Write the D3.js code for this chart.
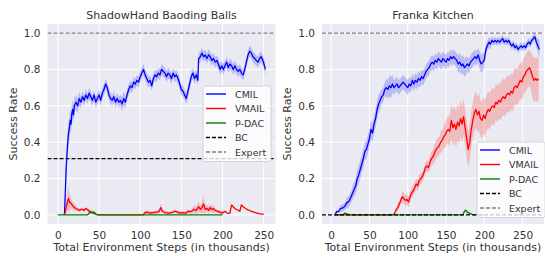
<!DOCTYPE html>
<html>
<head>
<meta charset="utf-8">
<script src="https://cdn.jsdelivr.net/npm/d3@7"></script>
<style>
  body { margin: 0; background: #fff; }
  text { font-family: "DejaVu Sans", sans-serif; fill: #333; }
</style>
</head>
<body>
<svg id="chart" width="545" height="256"></svg>
<script>
// ---- datos (x en miles de pasos) ----
// Panel izquierdo: ShadowHand Baoding Balls
const cmilL_x = [8,9,10,11,12,13,14,15,16,17,18,19,20,22,24,26,28,30,32,34,36,38,40,42,44,46,48,50,52,54,56,58,60,62,64,66,68,70,72,74,76,78,80,82,84,86,88,90,92,94,96,98,100,102,104,106,108,110,112,114,116,118,120,122,124,126,128,130,132,134,136,138,140,142,144,146,148,150,152,154,156,158,160,162,164,166,168,170,171,173,175,177,179,181,183,185,187,189,191,193,195,197,199,201,203,205,207,209,211,213,215,217,219,221,223,225,227,229,231,233,235,237,239,241,243,245,247,249,251,252];
const cmilL_y = [0,0.12,0.25,0.33,0.40,0.45,0.48,0.52,0.50,0.56,0.58,0.55,0.60,0.62,0.60,0.64,0.62,0.65,0.63,0.66,0.64,0.67,0.65,0.63,0.66,0.62,0.64,0.66,0.63,0.67,0.69,0.72,0.70,0.66,0.64,0.63,0.65,0.62,0.64,0.62,0.63,0.61,0.64,0.62,0.66,0.69,0.71,0.70,0.73,0.72,0.74,0.73,0.76,0.78,0.80,0.77,0.75,0.73,0.74,0.71,0.75,0.77,0.76,0.78,0.77,0.80,0.79,0.78,0.76,0.78,0.77,0.75,0.78,0.76,0.77,0.75,0.72,0.69,0.68,0.66,0.64,0.68,0.72,0.76,0.78,0.75,0.77,0.74,0.86,0.87,0.89,0.87,0.88,0.86,0.88,0.87,0.85,0.86,0.84,0.85,0.83,0.80,0.82,0.80,0.82,0.84,0.81,0.83,0.82,0.80,0.82,0.80,0.79,0.80,0.78,0.77,0.80,0.84,0.88,0.90,0.89,0.87,0.86,0.85,0.84,0.86,0.87,0.85,0.82,0.80];
const cmilL_sd = [0,0.06,0.07,0.07,0.07,0.06,0.06,0.06,0.05,0.05,0.05,0.05,0.04,0.04,0.04,0.04,0.03,0.03,0.03,0.03,0.03,0.03,0.03,0.03,0.03,0.03,0.03,0.03,0.03,0.03,0.03,0.03,0.03,0.03,0.03,0.03,0.03,0.03,0.03,0.03,0.03,0.04,0.04,0.03,0.03,0.03,0.03,0.03,0.03,0.03,0.03,0.03,0.03,0.03,0.03,0.03,0.03,0.03,0.03,0.03,0.03,0.03,0.03,0.03,0.03,0.03,0.03,0.03,0.03,0.03,0.03,0.03,0.03,0.03,0.03,0.03,0.03,0.03,0.03,0.03,0.03,0.03,0.03,0.03,0.03,0.03,0.03,0.03,0.03,0.03,0.03,0.03,0.03,0.03,0.03,0.03,0.03,0.03,0.03,0.03,0.03,0.03,0.03,0.03,0.03,0.03,0.03,0.03,0.03,0.03,0.03,0.03,0.03,0.03,0.03,0.03,0.03,0.03,0.03,0.03,0.03,0.03,0.03,0.03,0.03,0.03,0.03,0.03,0.03,0.04];

const vmailL_x = [8,10,12,13,14,16,18,20,22,24,26,28,30,32,34,36,38,40,42,44,46,48,50,104,105,108,112,116,120,123,125,127,130,134,138,142,144,148,152,156,158,162,165,168,171,173,175,177,179,181,183,185,187,189,191,194,197,200,203,205,207,209,211,213,215,217,219,221,223,225,228,231,234,237,240,243,246,250];
const vmailL_y = [0,0.04,0.08,0.09,0.07,0.065,0.05,0.04,0.035,0.03,0.025,0.03,0.03,0.025,0.035,0.03,0.02,0.018,0.012,0.008,0.004,0.001,0,0,0.01,0.015,0.01,0.012,0.015,0.02,0.04,0.02,0.013,0.01,0.012,0.02,0.018,0.01,0.012,0.01,0.02,0.018,0.03,0.025,0.045,0.03,0.04,0.06,0.03,0.035,0.025,0.04,0.03,0.035,0.025,0.02,0.015,0.01,0.02,0.012,0.008,0.01,0.055,0.045,0.035,0.03,0.025,0.02,0.055,0.045,0.035,0.028,0.022,0.017,0.013,0.009,0.006,0.003];
const vmailL_sd = [0,0.03,0.06,0.07,0.05,0.03,0.02,0.02,0.015,0.01,0.01,0.01,0.01,0.01,0.01,0.01,0.01,0.01,0.005,0.005,0.003,0,0,0,0.01,0.01,0.01,0.01,0.01,0.01,0.025,0.01,0.01,0.01,0.01,0.01,0.01,0.01,0.01,0.01,0.01,0.01,0.02,0.02,0.03,0.02,0.03,0.05,0.02,0.02,0.02,0.02,0.02,0.02,0.01,0.01,0.01,0.01,0,0,0,0,0,0,0,0,0,0,0,0,0,0,0,0,0,0,0,0];

const pdacL_x = [0,36,38,40,42,44,46,48,200];
const pdacL_y = [0,0,0.01,0.015,0.012,0.015,0.005,0,0];
const pdacL_sd = [0,0,0.008,0.01,0.01,0.01,0.005,0,0];

// Panel derecho: Franka Kitchen
const cmilR_x = [5,7,10,12,14,16,18,20,22,24,26,28,30,32,34,36,38,40,42,44,46,48,50,52,54,56,58,60,62,64,66,68,70,72,74,76,78,80,82,84,86,88,90,92,94,96,98,100,102,104,106,108,110,112,114,116,118,120,122,124,126,128,130,132,134,136,138,140,142,144,146,148,150,152,154,156,158,160,162,164,166,168,170,172,174,176,178,180,182,184,186,188,190,192,194,196,198,200,202,204,206,208,210,212,214,216,218,220,222,224,226,228,230,232,234,236,238,240,242,244,246,248,250,252,254,256,258,260,262,264,266,268,270,272];
const cmilR_y = [0,0.018,0.02,0.035,0.037,0.04,0.05,0.065,0.07,0.08,0.1,0.12,0.14,0.16,0.2,0.22,0.25,0.28,0.31,0.35,0.36,0.39,0.42,0.47,0.45,0.5,0.53,0.58,0.61,0.63,0.65,0.66,0.69,0.70,0.69,0.71,0.70,0.72,0.70,0.71,0.72,0.70,0.71,0.72,0.73,0.72,0.71,0.70,0.72,0.71,0.74,0.72,0.74,0.73,0.75,0.74,0.76,0.75,0.77,0.79,0.80,0.81,0.83,0.84,0.83,0.85,0.84,0.86,0.85,0.84,0.86,0.85,0.84,0.86,0.85,0.87,0.86,0.87,0.86,0.85,0.83,0.84,0.82,0.83,0.81,0.82,0.83,0.82,0.84,0.85,0.86,0.87,0.86,0.88,0.85,0.83,0.84,0.85,0.91,0.93,0.95,0.94,0.96,0.95,0.96,0.95,0.96,0.95,0.96,0.97,0.95,0.96,0.95,0.96,0.94,0.93,0.94,0.92,0.93,0.91,0.92,0.93,0.92,0.93,0.92,0.94,0.95,0.94,0.96,0.97,0.98,0.95,0.93,0.91];
const cmilR_sd = [0,0.01,0.01,0.02,0.02,0.02,0.02,0.03,0.03,0.03,0.03,0.04,0.04,0.04,0.05,0.05,0.05,0.05,0.05,0.05,0.05,0.05,0.05,0.05,0.05,0.05,0.05,0.05,0.05,0.05,0.04,0.04,0.04,0.05,0.05,0.06,0.06,0.05,0.04,0.04,0.04,0.04,0.04,0.04,0.04,0.04,0.04,0.04,0.04,0.04,0.04,0.04,0.04,0.04,0.04,0.04,0.04,0.04,0.04,0.04,0.04,0.04,0.04,0.04,0.04,0.04,0.04,0.04,0.04,0.04,0.04,0.04,0.04,0.04,0.04,0.04,0.04,0.04,0.04,0.04,0.05,0.05,0.05,0.05,0.05,0.05,0.04,0.04,0.04,0.04,0.04,0.04,0.04,0.04,0.05,0.05,0.05,0.04,0.03,0.03,0.03,0.03,0.02,0.02,0.02,0.02,0.02,0.02,0.02,0.02,0.02,0.02,0.02,0.02,0.02,0.02,0.02,0.02,0.02,0.02,0.02,0.02,0.02,0.02,0.02,0.02,0.02,0.02,0.02,0.02,0.02,0.03,0.04,0.05];

const vmailR_x = [5,81,83,85,87,89,91,93,95,97,99,101,103,105,107,109,111,113,115,117,119,121,123,125,127,129,131,133,135,137,139,141,143,145,147,149,151,153,155,157,159,161,163,165,167,169,171,173,175,177,179,181,183,185,187,189,191,193,195,197,199,201,203,205,207,209,211,213,215,217,219,221,223,225,227,229,231,233,235,237,239,241,243,245,247,249,251,253,255,257,259,261,263,265,267,269,271];
const vmailR_y = [0,0,0.01,0.03,0.04,0.06,0.08,0.1,0.09,0.08,0.085,0.07,0.1,0.12,0.13,0.15,0.17,0.16,0.19,0.2,0.21,0.23,0.26,0.27,0.26,0.29,0.31,0.32,0.34,0.36,0.37,0.38,0.40,0.41,0.43,0.44,0.46,0.47,0.46,0.52,0.48,0.50,0.47,0.51,0.49,0.53,0.50,0.54,0.48,0.42,0.36,0.40,0.47,0.52,0.56,0.58,0.55,0.57,0.53,0.52,0.55,0.53,0.56,0.58,0.57,0.59,0.60,0.59,0.62,0.61,0.63,0.62,0.64,0.65,0.64,0.66,0.67,0.66,0.68,0.67,0.70,0.71,0.70,0.72,0.74,0.73,0.76,0.77,0.79,0.80,0.81,0.79,0.76,0.74,0.75,0.74,0.75];
const vmailR_sd = [0,0,0.01,0.01,0.02,0.02,0.02,0.03,0.03,0.03,0.03,0.03,0.03,0.03,0.03,0.03,0.03,0.03,0.03,0.03,0.03,0.03,0.03,0.03,0.03,0.04,0.04,0.04,0.05,0.05,0.05,0.05,0.06,0.06,0.06,0.07,0.07,0.08,0.08,0.1,0.1,0.1,0.1,0.1,0.1,0.1,0.1,0.1,0.1,0.1,0.1,0.1,0.1,0.1,0.1,0.1,0.1,0.1,0.1,0.1,0.1,0.1,0.1,0.1,0.1,0.1,0.1,0.1,0.1,0.1,0.1,0.1,0.1,0.1,0.1,0.1,0.1,0.1,0.1,0.1,0.1,0.1,0.1,0.1,0.1,0.1,0.1,0.1,0.1,0.1,0.1,0.1,0.12,0.12,0.12,0.12,0.12];

const pdacR_x = [5,15,18,21,24,172,174,176,178,181,184,188,200];
const pdacR_y = [0,0,0.01,0.005,0,0,0.02,0.025,0.015,0.008,0.003,0,0];
const pdacR_sd = [0,0,0.005,0.005,0,0,0.01,0.01,0.008,0.005,0,0,0];

const xTicks = [0, 50, 100, 150, 200, 250];
const yTicks = [0.0, 0.2, 0.4, 0.6, 0.8, 1.0];
const expertLevel = 1.0;
const bcLevels = [0.31, 0.0];
const titles = ["ShadowHand Baoding Balls", "Franka Kitchen"];
const legendNames = ["CMIL", "VMAIL", "P-DAC", "BC", "Expert"];

const colores = { CMIL: "#0000ff", VMAIL: "#ff0000", "P-DAC": "#008000" };

function serie(name, xs, ys, sd) {
    return { name: name, pts: xs.map((x, i) => ({ x: x, y: ys[i], sd: sd[i] })) };
}

const paneles = [
    {
        title: titles[0], bc: bcLevels[0],
        xDomain: [-12.6, 264.6], left: 47.5, right: 275.7,
        legend: { x: 203, y: 86 },
        series: [
            serie("CMIL", cmilL_x, cmilL_y, cmilL_sd),
            serie("VMAIL", vmailL_x, vmailL_y, vmailL_sd),
            serie("P-DAC", pdacL_x, pdacL_y, pdacL_sd)
        ]
    },
    {
        title: titles[1], bc: bcLevels[1],
        xDomain: [-12, 278], left: 322, right: 544,
        legend: { x: 477, y: 142 },
        series: [
            serie("CMIL", cmilR_x, cmilR_y, cmilR_sd),
            serie("VMAIL", vmailR_x, vmailR_y, vmailR_sd),
            serie("P-DAC", pdacR_x, pdacR_y, pdacR_sd)
        ]
    }
];

const svg = d3.select("#chart");
const plotTop = 24, plotBottom = 224;

paneles.forEach((p, pi) => {
    const x = d3.scaleLinear().domain(p.xDomain).range([p.left, p.right]);
    const y = d3.scaleLinear().domain([-0.05, 1.05]).range([plotBottom, plotTop]);
    const g = svg.append("g");

    // fondo estilo seaborn darkgrid
    g.append("rect")
        .attr("x", p.left).attr("y", plotTop)
        .attr("width", p.right - p.left).attr("height", plotBottom - plotTop)
        .attr("fill", "#eaeaf2");

    const clipId = "clip" + pi;
    svg.append("clipPath").attr("id", clipId)
        .append("rect")
        .attr("x", p.left).attr("y", plotTop)
        .attr("width", p.right - p.left).attr("height", plotBottom - plotTop);

    // rejilla
    g.selectAll(".gx").data(xTicks).enter().append("line")
        .attr("x1", d => x(d)).attr("x2", d => x(d))
        .attr("y1", plotTop).attr("y2", plotBottom)
        .attr("stroke", "#fff").attr("stroke-width", 1);
    g.selectAll(".gy").data(yTicks).enter().append("line")
        .attr("x1", p.left).attr("x2", p.right)
        .attr("y1", d => y(d)).attr("y2", d => y(d))
        .attr("stroke", "#fff").attr("stroke-width", 1);

    // ejes (solo etiquetas, sin líneas)
    const xAxis = g.append("g")
        .attr("transform", `translate(0,${plotBottom})`)
        .call(d3.axisBottom(x).tickValues(xTicks).tickSize(0).tickPadding(8).tickFormat(d3.format("d")));
    const yAxis = g.append("g")
        .attr("transform", `translate(${p.left},0)`)
        .call(d3.axisLeft(y).tickValues(yTicks).tickSize(0).tickPadding(7).tickFormat(d3.format(".1f")));
    [xAxis, yAxis].forEach(a => {
        a.select(".domain").remove();
        a.selectAll("text").attr("font-size", 10.5).attr("fill", "#444")
            .attr("font-family", "DejaVu Sans, sans-serif");
    });

    const plot = g.append("g").attr("clip-path", `url(#${clipId})`);

    // bandas
    p.series.forEach(s => {
        const area = d3.area()
            .x(d => x(d.x))
            .y0(d => y(d.y - d.sd))
            .y1(d => y(d.y + d.sd));
        plot.append("path")
            .attr("d", area(s.pts))
            .attr("fill", colores[s.name])
            .attr("fill-opacity", 0.2);
    });
    // líneas
    p.series.forEach(s => {
        const line = d3.line().x(d => x(d.x)).y(d => y(d.y));
        plot.append("path")
            .attr("d", line(s.pts))
            .attr("fill", "none")
            .attr("stroke", colores[s.name])
            .attr("stroke-width", 1.3)
            .attr("stroke-linejoin", "round");
    });

    // BC y Expert
    plot.append("line")
        .attr("x1", p.left).attr("x2", p.right)
        .attr("y1", y(p.bc)).attr("y2", y(p.bc))
        .attr("stroke", "#000").attr("stroke-width", 1.2)
        .attr("stroke-dasharray", "4,2");
    plot.append("line")
        .attr("x1", p.left).attr("x2", p.right)
        .attr("y1", y(expertLevel)).attr("y2", y(expertLevel))
        .attr("stroke", "#808080").attr("stroke-width", 1.2)
        .attr("stroke-dasharray", "4,2");

    // títulos
    g.append("text")
        .attr("x", (p.left + p.right) / 2).attr("y", 19)
        .attr("text-anchor", "middle").attr("font-size", 11)
        .attr("fill", "#333")
        .text(p.title);
    g.append("text")
        .attr("x", (p.left + p.right) / 2).attr("y", 251)
        .attr("text-anchor", "middle").attr("font-size", 11)
        .attr("fill", "#333")
        .text("Total Environment Steps (in thousands)");
    g.append("text")
        .attr("transform", `translate(${p.left - 31},${(plotTop + plotBottom) / 2}) rotate(-90)`)
        .attr("text-anchor", "middle").attr("font-size", 11)
        .attr("fill", "#333")
        .text("Success Rate");

    // leyenda
    const lg = g.append("g").attr("transform", `translate(${p.legend.x},${p.legend.y})`);
    lg.append("rect")
        .attr("width", 68).attr("height", 75.5).attr("rx", 2)
        .attr("fill", "#fff").attr("fill-opacity", 0.8)
        .attr("stroke", "#cccccc").attr("stroke-width", 0.8);
    legendNames.forEach((n, i) => {
        const ly = 8 + i * 14.5;
        const item = lg.append("line")
            .attr("x1", 3).attr("x2", 23)
            .attr("y1", ly).attr("y2", ly)
            .attr("stroke-width", 1.4);
        if (n === "BC") item.attr("stroke", "#000").attr("stroke-dasharray", "4,2");
        else if (n === "Expert") item.attr("stroke", "#808080").attr("stroke-dasharray", "4,2");
        else item.attr("stroke", colores[n]);
        lg.append("text")
            .attr("x", 32).attr("y", ly + 3.5)
            .attr("font-size", 9.5).attr("fill", "#333")
            .text(n);
    });
});
</script>
</body>
</html>
